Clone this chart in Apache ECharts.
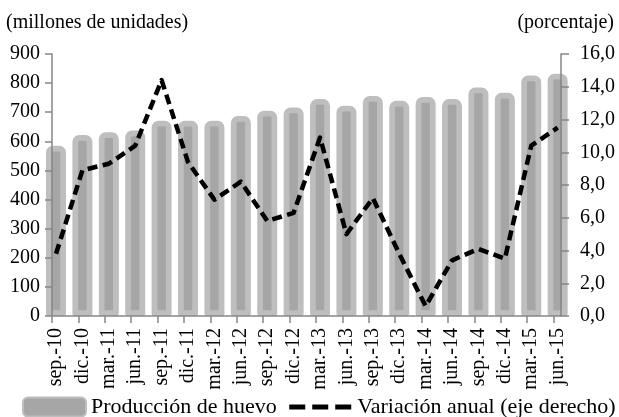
<!DOCTYPE html>
<html><head><meta charset="utf-8">
<script src="https://cdn.jsdelivr.net/npm/echarts@6/dist/echarts.min.js"></script>
<style>html,body{margin:0;padding:0;background:#fff}#c{width:619px;height:417px}</style>
</head><body><div id="c"></div>
<script>
const categories = ['sep.-10','dic.-10','mar.-11','jun.-11','sep.-11','dic.-11','mar.-12','jun.-12','sep.-12','dic.-12','mar.-13','jun.-13','sep.-13','dic.-13','mar.-14','jun.-14','sep.-14','dic.-14','mar.-15','jun.-15'];
const produccion = [585,622,631,637,671,671,671,687,705,716,745,722,756,739,752,745,785,767,826,832];
const variacion = [3.8,8.9,9.3,10.4,14.4,9.4,7.1,8.2,5.8,6.3,10.9,5.0,7.2,3.8,0.6,3.4,4.1,3.5,10.4,11.5];
const leftTicks = [0,100,200,300,400,500,600,700,800,900];
const rightTicks = [0,2,4,6,8,10,12,14,16];
const seriesNames = ['Producción de huevo','Variación anual (eje derecho)'];
const leftTitle = '(millones de unidades)';
const rightTitle = '(porcentaje)';

const FF = "'Liberation Serif','Times New Roman',serif";
const AX = '#868686';
const OFF = -0.152;
const chart = echarts.init(document.getElementById('c'), null, {renderer:'canvas'});
chart.setOption({
  animation:false,
  backgroundColor:'#fff',
  grid:{left:52, right:58, top:54, bottom:101, containLabel:false},
  graphic:[
    {type:'text', left:6, top:13, style:{text:leftTitle, font:'20px '+FF, fill:'#000'}},
    {type:'text', right:5, top:13, style:{text:rightTitle, font:'20px '+FF, fill:'#000'}}
  ],
  legend:{left:22, top:396, width:640, padding:0, itemWidth:63, itemHeight:19, itemGap:10,
    textStyle:{fontSize:22, fontFamily:FF, color:'#000'},
    lineStyle:{width:5, type:[16,7]},
    data:[{name:seriesNames[0], icon:'roundRect'},
          {name:seriesNames[1], itemStyle:{color:'rgba(0,0,0,0)', borderColor:'rgba(0,0,0,0)', borderWidth:0}}]},
  xAxis:{type:'value', min:OFF, max:19.127, z:3,
    axisLine:{show:true, onZero:false, lineStyle:{color:AX, width:1.5}},
    axisTick:{show:true, length:7, lineStyle:{color:AX, width:1.5}, customValues: categories.map((c,i)=>i+OFF)},
    axisLabel:{show:true, rotate:90, margin:12, fontSize:20, fontFamily:FF, color:'#000',
      customValues: categories.map((c,i)=>i), formatter:v=>categories[Math.round(v)]},
    splitLine:{show:false}},
  yAxis:[
    {type:'value', position:'left', min:leftTicks[0], max:leftTicks[leftTicks.length-1], interval:leftTicks[1]-leftTicks[0], z:3,
     axisLine:{show:true, onZero:false, lineStyle:{color:AX, width:1.5}},
     axisTick:{show:true, length:7, lineStyle:{color:AX, width:1.5}},
     axisLabel:{margin:12, fontSize:20, fontFamily:FF, color:'#000'},
     splitLine:{show:false}},
    {type:'value', position:'right', min:rightTicks[0], max:rightTicks[rightTicks.length-1], interval:rightTicks[1]-rightTicks[0], z:3,
     axisLine:{show:true, onZero:false, lineStyle:{color:AX, width:1.5}},
     axisTick:{show:true, length:8, lineStyle:{color:AX, width:1.5}},
     axisLabel:{margin:19, fontSize:20, fontFamily:FF, color:'#000', formatter:v=>v.toFixed(1).replace('.',',')},
     splitLine:{show:false}}
  ],
  series:[
    {type:'bar', name:seriesNames[0], yAxisIndex:0, data:produccion.map((v,i)=>[i,v]), barWidth:20, clip:true,
     itemStyle:{color:'#a6a6a6', borderColor:'#bebebe', borderWidth:5.75, borderJoin:'round', borderRadius:[4,4,0,0]},
     emphasis:{disabled:true}},
    {type:'line', name:seriesNames[1], yAxisIndex:1, data:variacion.map((v,i)=>[i,v]), symbol:'none', z:4, color:'#000',
     lineStyle:{color:'#000', width:4.5, type:[10,5.5], join:'round'}, emphasis:{disabled:true}}
  ]
});
</script></body></html>
